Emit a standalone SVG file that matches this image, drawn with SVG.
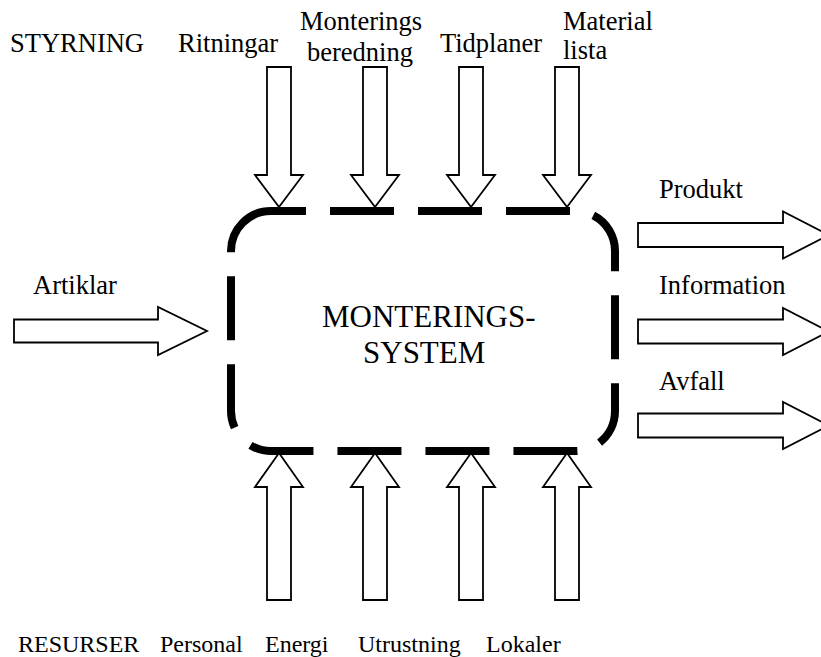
<svg xmlns="http://www.w3.org/2000/svg" width="821" height="657" viewBox="0 0 821 657">
  <style>
    .lbl { font-family: "Liberation Serif", "Times New Roman", serif; font-size: 26.5px; fill: #000; }
    .res { font-family: "Liberation Serif", "Times New Roman", serif; font-size: 24px; fill: #000; }
    .title { font-family: "Liberation Serif", "Times New Roman", serif; font-size: 31px; fill: #000; }
    .arrow { fill: #fff; stroke: #000; stroke-width: 1.8; stroke-linejoin: miter; }
    .frame { fill: none; stroke: #000; stroke-width: 8; stroke-dasharray: 64 24; stroke-dashoffset: 29; }
  </style>
  <rect width="821" height="657" fill="#fff"/>

  <!-- central system with dashed rounded border -->
  <g id="system">
    <path class="frame" d="M271,211 H575 A40,40 0 0 1 615,251 V411 A40,40 0 0 1 575,451 H271 A40,40 0 0 1 231,411 V251 A40,40 0 0 1 271,211 Z"/>
    <text class="title" x="322" y="327">MONTERINGS-</text>
    <text class="title" x="363" y="363">SYSTEM</text>
  </g>

  <!-- control inputs -->
  <g id="styrning"><text class="lbl" x="10" y="52">STYRNING</text></g>
  <g id="ritningar"><text class="lbl" x="178" y="52">Ritningar</text></g>
  <g id="monteringsberedning">
    <text class="lbl" x="300" y="30">Monterings</text>
    <text class="lbl" x="307" y="61">beredning</text>
  </g>
  <g id="tidplaner"><text class="lbl" x="440" y="52">Tidplaner</text></g>
  <g id="materiallista">
    <text class="lbl" x="563" y="30">Material</text>
    <text class="lbl" x="563" y="59">lista</text>
  </g>

  <!-- input -->
  <g id="artiklar"><text class="lbl" x="33" y="294">Artiklar</text></g>

  <!-- outputs -->
  <g id="produkt"><text class="lbl" x="659" y="198">Produkt</text></g>
  <g id="information"><text class="lbl" x="659" y="294">Information</text></g>
  <g id="avfall"><text class="lbl" x="659" y="390">Avfall</text></g>

  <!-- resources -->
  <g id="resurser"><text class="res" x="18" y="652">RESURSER</text></g>
  <g id="personal"><text class="res" x="160" y="652">Personal</text></g>
  <g id="energi"><text class="res" x="265" y="652">Energi</text></g>
  <g id="utrustning"><text class="res" x="358" y="652">Utrustning</text></g>
  <g id="lokaler"><text class="res" x="486" y="652">Lokaler</text></g>

  <!-- block arrows -->
  <g id="connectors">
    <!-- control arrows (down) -->
    <polygon class="arrow" points="267,67 291,67 291,175 303,175 279,207 255,175 267,175"/>
    <polygon class="arrow" points="363,67 387,67 387,175 399,175 375,207 351,175 363,175"/>
    <polygon class="arrow" points="459,67 483,67 483,175 495,175 471,207 447,175 459,175"/>
    <polygon class="arrow" points="555,67 579,67 579,175 591,175 567,207 543,175 555,175"/>
    <!-- resource arrows (up) -->
    <polygon class="arrow" points="279,453 303,487 291,487 291,600 267,600 267,487 255,487"/>
    <polygon class="arrow" points="375,453 399,487 387,487 387,600 363,600 363,487 351,487"/>
    <polygon class="arrow" points="471,453 495,487 483,487 483,600 459,600 459,487 447,487"/>
    <polygon class="arrow" points="567,453 591,487 579,487 579,600 555,600 555,487 543,487"/>
    <!-- input arrow -->
    <polygon class="arrow" points="14,319.5 158,319.5 158,307 207,331 158,355 158,342.5 14,342.5"/>
    <!-- output arrows -->
    <polygon class="arrow" points="638,223 783,223 783,211.5 829,235 783,258.5 783,247 638,247"/>
    <polygon class="arrow" points="638,319.5 783,319.5 783,308 829,331.5 783,355 783,343.5 638,343.5"/>
    <polygon class="arrow" points="638,413.5 783,413.5 783,402 829,425.5 783,449 783,437.5 638,437.5"/>
  </g>
</svg>
